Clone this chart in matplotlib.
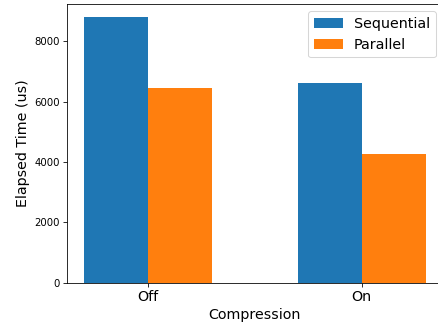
import numpy as np
import matplotlib.pyplot as plt

categories = ['Off', 'On']
sequential = [8800, 6610]
parallel = [6450, 4260]

x = np.arange(len(categories))
width = 0.3

fig, ax = plt.subplots(figsize=(438/73, 327/73), dpi=73)
ax.bar(x - width/2, sequential, width, label='Sequential')
ax.bar(x + width/2, parallel, width, label='Parallel')
ax.set_xticks(x)
ax.set_xticklabels(categories, fontsize=14)
ax.set_xlabel('Compression', fontsize=14)
ax.set_ylabel('Elapsed Time (us)', fontsize=14)
ax.legend(fontsize=14)
plt.subplots_adjust(left=0.153, right=1.011, top=0.988, bottom=0.135)
plt.savefig('out.png')
